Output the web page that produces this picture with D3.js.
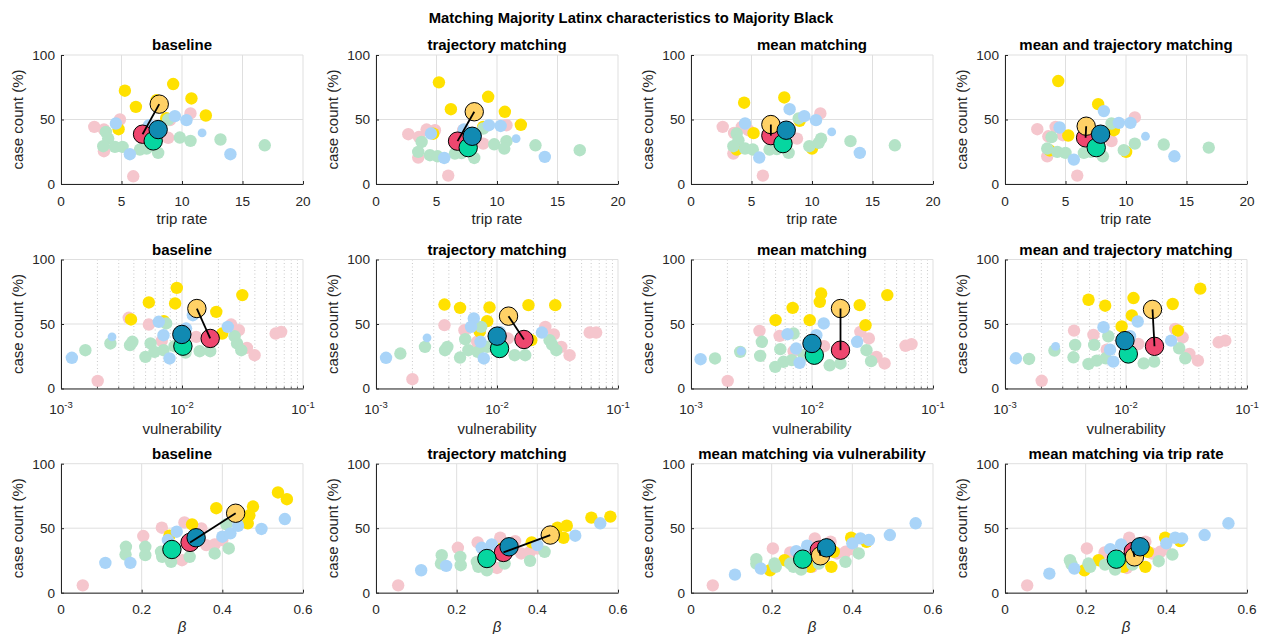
<!DOCTYPE html>
<html>
<head>
<meta charset="utf-8">
<script src="https://cdn.jsdelivr.net/npm/d3@7"></script>
<style>
  body { margin: 0; background: #fff; }
  svg { display: block; }
  text { font-family: "Liberation Sans", Arial, Helvetica, sans-serif; }
</style>
</head>
<body>
<svg id="fig" width="1262" height="634"></svg>
<script>
// ---------------------------------------------------------------
// Data: each row is [group, x, case count (%), small?]
// groups: P = pink, Y = yellow, G = green, B = blue
// Means are listed in the order pink, yellow, green, blue.
// ---------------------------------------------------------------
const groupKeys = ["P", "Y", "G", "B"];            // drawing order
const pointColors = { P: "#f5c6cd", Y: "#ffe100", G: "#b4e3c7", B: "#a9d4f8" };
const meanColors  = { P: "#ef476f", Y: "#ffd166", G: "#06d6a0", B: "#118ab2" };

const yTicks = [0, 50, 100];
const tripTicks = [0, 5, 10, 15, 20];
const vulnTicks = [1e-3, 1e-2, 1e-1];
const vulnTickExp = ["-3", "-2", "-1"];
const betaTicks = [0, 0.2, 0.4, 0.6];
const betaTickLabels = ["0", "0.2", "0.4", "0.6"];

const rowTitles = [
  ["baseline", "trajectory matching", "mean matching", "mean and trajectory matching"],
  ["baseline", "trajectory matching", "mean matching", "mean and trajectory matching"],
  ["baseline", "trajectory matching", "mean matching via vulnerability", "mean matching via trip rate"]
];

// ---- trip rate row ----
const tripBaseline = [
  ["P",2.75,44.3],["P",3.55,42.2],["P",4.87,50],["P",3.55,25.4],["P",5.97,6],["P",8.86,35.8],["P",10.7,54.7],["P",9.0,49.5],["P",7.2,44],
  ["Y",5.28,72.3],["Y",6.19,59.8],["Y",9.27,77.5],["Y",10.78,66.3],["Y",11.97,53.1],["Y",4.76,42.5],["Y",7.9,65],["Y",8.7,51],
  ["G",3.71,40.4],["G",3.9,35.2],["G",3.49,29.3],["G",4.46,28.8],["G",5.09,28.8],["G",6.52,26.7],["G",8.03,24.1],["G",9.82,36],["G",10.7,33.4],["G",13.18,34.5],["G",16.84,30],["G",8.86,50],["G",7.07,27.5],
  ["B",4.54,46.9],["B",5.69,23.1],["B",9.41,52.6],["B",10.37,49.5],["B",11.66,39.6,1],["B",14.0,23.1],["B",7.29,45.6]
];
const tripBaselineMeans = [[6.74,38.6],[8.12,61.9],[7.62,33.4],[8.03,42.2]];

const tripTrajectory = [
  ["P",2.67,38.6],["P",3.55,36.5],["P",4.18,42.2],["P",4.87,41.7],["P",3.49,20.5],["P",5.97,6.5],["P",8.86,31.3],["P",10.78,45.6],["P",7.2,41.7],
  ["Y",5.2,78.8],["Y",6.19,58],["Y",9.27,67.6],["Y",10.65,56],["Y",11.97,45.9],["Y",4.73,39],["Y",8.86,44.3],
  ["G",3.77,32.6],["G",3.49,24.9],["G",4.46,22.3],["G",5.09,21.5],["G",6.52,23.6],["G",8.12,20.2],["G",9.77,30.8],["G",10.78,33.2],["G",10.6,27.5],["G",13.18,30],["G",16.84,26.2],["G",8.86,43],["G",7.07,24],
  ["B",4.54,39.1],["B",5.64,20.2],["B",9.33,45.6],["B",10.3,45],["B",11.58,35.2,1],["B",13.95,21],["B",7.26,42.2]
];
const tripTrajectoryMeans = [[6.74,33.2],[8.12,56],[7.62,28.2],[7.95,37]];

const tripMean = [
  ["P",2.62,44.3],["P",3.56,39.6],["P",4.2,44.3],["P",4.75,41.7],["P",3.5,23.6],["P",5.94,6.5],["P",8.76,35.2],["P",10.69,54.7],["P",7.2,42],
  ["Y",4.39,63],["Y",7.71,67.1],["Y",5.17,39.4],["Y",3.78,26.7],["Y",8.98,49],["Y",10,27.5],
  ["G",3.78,39.1],["G",3.92,33.9],["G",3.5,29.3],["G",4.47,27.5],["G",5.11,26.7],["G",6.49,26.7],["G",8.07,24.1],["G",9.78,29.3],["G",10.75,35.2],["G",10.55,31.9],["G",13.18,33.2],["G",16.85,30],["G",8.9,50.8],["G",7.1,27],
  ["B",4.47,46.9],["B",5.64,20.5],["B",8.15,58],["B",9.36,52.6],["B",10.33,49.5],["B",11.63,40.4,1],["B",13.95,24.1],["B",7.3,44]
];
const tripMeanMeans = [[6.6,37.5],[6.6,46.1],[7.6,31.3],[7.87,41.7]];

const tripMeanTraj = [
  ["P",2.67,42.5],["P",3.58,37],["P",4.18,44.3],["P",4.79,37.8],["P",3.49,21.5],["P",5.97,6.5],["P",8.8,33.2],["P",10.73,51.6],
  ["Y",4.4,79.8],["Y",7.7,61.9],["Y",5.23,37.6],["Y",9.0,41.7],["Y",10.01,24.9],["Y",3.69,26],
  ["G",3.85,36.3],["G",3.49,27.5],["G",4.32,24.9],["G",5,24.1],["G",6.52,24.1],["G",8.09,21.5],["G",9.82,26.2],["G",10.73,31.3],["G",13.12,30.6],["G",16.84,28.2],["G",8.8,46.9],["G",7.1,25],
  ["B",4.51,43.8],["B",5.69,18.9],["B",8.17,56.5],["B",9.41,47.4],["B",10.37,47.4],["B",11.61,37,1],["B",14,21.5]
];
const tripMeanTrajMeans = [[6.66,35.8],[6.71,44.8],[7.54,28.2],[7.9,38.6]];

// ---- vulnerability row ----
const vulnBaseline = [
  ["P",0.00363,54.8],["P",0.00532,49.6],["P",0.0131,40],["P",0.0255,49.6],["P",0.0295,45.2],["P",0.0344,31.5],["P",0.0398,25.8],["P",0.0594,42.6],["P",0.066,43.9],["P",0.00201,5.9],["P",0.0068,37],
  ["Y",0.00532,66.7],["Y",0.00906,78],["Y",0.00877,65.9],["Y",0.00379,53.5],["Y",0.00708,52.2],["Y",0.0192,59.4],["Y",0.0315,72.4],["Y",0.0215,42.6],
  ["G",0.00159,29.7],["G",0.00256,34.9],["G",0.00372,33.6],["G",0.00389,36.2],["G",0.00499,24.5],["G",0.0055,34.9],["G",0.00592,28.4],["G",0.00703,29.7],["G",0.0074,50.4],["G",0.00867,32.8],["G",0.0107,27.9],["G",0.014,28.9],["G",0.0171,28.9],["G",0.0272,40.6],["G",0.0285,34.9],["G",0.0309,29.7],
  ["B",0.00123,23.8],["B",0.00264,40,1],["B",0.00643,51.7],["B",0.00703,41.3],["B",0.00789,23.3],["B",0.0108,46.5],["B",0.0123,56.8],["B",0.0239,47.8]
];
const vulnBaselineMeans = [[0.0171,38.8],[0.01327,62],[0.01017,32.8],[0.00997,41.9]];

const vulnTrajectory = [
  ["P",0.00368,49.1],["P",0.00538,45.2],["P",0.00685,36.2],["P",0.0123,38.8],["P",0.0251,47.8],["P",0.0295,41.9],["P",0.034,32.3],["P",0.0398,25.8],["P",0.0583,43.4],["P",0.066,43.4],["P",0.002,7.2],
  ["Y",0.00368,65.1],["Y",0.00495,62.5],["Y",0.00867,62.8],["Y",0.0083,52.2],["Y",0.0182,64.6],["Y",0.0303,64.6],["Y",0.0192,37.5],["Y",0.0072,44],
  ["G",0.00159,27.1],["G",0.00254,32.3],["G",0.00372,29.7],["G",0.00389,32.3],["G",0.00495,24],["G",0.00546,38.2],["G",0.0058,29.7],["G",0.00693,28.4],["G",0.0074,47.8],["G",0.0083,32.3],["G",0.0108,28.4],["G",0.014,25.8],["G",0.0171,25.8],["G",0.0272,37.5],["G",0.0285,34.1],["G",0.0309,29.7],
  ["B",0.00121,23.8],["B",0.00264,39.3,1],["B",0.00643,54.3],["B",0.0061,47.8],["B",0.0073,36.2],["B",0.00778,23.3],["B",0.0105,43.9],["B",0.0235,43.4]
];
const vulnTrajectoryMeans = [[0.0167,38],[0.01245,56.1],[0.0105,31],[0.01003,40.6]];

const vulnMean = [
  ["P",0.00368,44.7],["P",0.0054,40.8],["P",0.00705,28.9],["P",0.01256,32.8],["P",0.0251,43.9],["P",0.0295,38.8],["P",0.0341,24.5],["P",0.0398,19.4],["P",0.0593,33.1],["P",0.0665,34.4],["P",0.00201,5.9],
  ["Y",0.005,53],["Y",0.00692,62.5],["Y",0.00957,53],["Y",0.0116,67.2],["Y",0.0119,73.6],["Y",0.0248,64.6],["Y",0.0277,49.1],["Y",0.0419,72.4],
  ["G",0.00158,23.3],["G",0.00255,28.4],["G",0.00373,25.3],["G",0.00385,36.2],["G",0.00497,16.8],["G",0.00547,30.5],["G",0.00582,20.7],["G",0.00705,42.6],["G",0.00853,25.8],["G",0.014,18],["G",0.0172,19.4],["G",0.0282,29.7],["G",0.0308,21.2],["G",0.0068,22],
  ["B",0.0012,22.7],["B",0.0026,28.9,1],["B",0.00628,42.1],["B",0.0125,50.4],["B",0.01086,41.3],["B",0.0074,31],["B",0.0079,19.9],["B",0.0236,36.2]
];
const vulnMeanMeans = [[0.0172,29.7],[0.0172,62],[0.01045,25.8],[0.01,34.9]];

const vulnMeanTraj = [
  ["P",0.00372,44.9],["P",0.00538,41.6],["P",0.00693,30.1],["P",0.01265,34.5],["P",0.0255,46.2],["P",0.0294,39.7],["P",0.0334,26.8],["P",0.0393,21.6],["P",0.0583,35.8],["P",0.0662,37.1],["P",0.00201,6],
  ["Y",0.0049,68.8],["Y",0.00673,64.2],["Y",0.0092,48.1],["Y",0.01153,70.1],["Y",0.01117,56.6],["Y",0.0243,65.5],["Y",0.0269,44.9],["Y",0.0411,77.4],
  ["G",0.00158,22.9],["G",0.00256,29.4],["G",0.00368,24.2],["G",0.0038,33.8],["G",0.0049,19],["G",0.00546,33.8],["G",0.00574,21.6],["G",0.00714,40.5],["G",0.00679,23.4],["G",0.014,19.5],["G",0.0171,20.8],["G",0.0275,31.2],["G",0.0309,23.4],
  ["B",0.00123,23.4],["B",0.00262,32.7,1],["B",0.00652,47.5],["B",0.0125,51.9],["B",0.0108,40.5],["B",0.00738,30.1],["B",0.00785,20.8],["B",0.0236,37.1]
];
const vulnMeanTrajMeans = [[0.0172,32.7],[0.01656,61.3],[0.01045,26.8],[0.0098,37.1]];

// ---- beta row ----
const betaBaseline = [
  ["P",0.054,5.7],["P",0.204,43.9],["P",0.25,50.4],["P",0.306,54.5],["P",0.3,25.2],["P",0.348,49.9],["P",0.36,36.9],["P",0.381,37.4],["P",0.4,40.8],
  ["Y",0.385,65.5],["Y",0.476,66.8],["Y",0.463,53.8],["Y",0.467,60],["Y",0.538,77.7],["Y",0.56,72.5],["Y",0.325,53],["Y",0.269,44.2],
  ["G",0.161,35.6],["G",0.16,29.6],["G",0.209,35.6],["G",0.209,29.1],["G",0.248,31.7],["G",0.251,27.8],["G",0.273,23.9],["G",0.319,27.8],["G",0.381,30.4],["G",0.416,34.3],["G",0.41,53],
  ["B",0.11,23.1],["B",0.172,23.1],["B",0.287,47.3],["B",0.265,40.8],["B",0.4,43.4],["B",0.42,46],["B",0.439,51.9],["B",0.497,49.4],["B",0.555,57.1]
];
const betaBaselineMeans = [[0.32,39],[0.433,61.6],[0.275,33.5],[0.335,42.6]];

const betaTrajectory = [
  ["P",0.055,5.7],["P",0.203,34.8],["P",0.252,39],["P",0.308,42.6],["P",0.3,19.2],["P",0.345,40],["P",0.36,30.4],["P",0.382,31.7],["P",0.4,34.3],
  ["Y",0.386,39],["Y",0.45,50.4],["Y",0.473,51.9],["Y",0.465,42.6],["Y",0.534,58.2],["Y",0.581,59],["Y",0.31,34],
  ["G",0.163,29.1],["G",0.161,22.6],["G",0.209,27.8],["G",0.21,21.3],["G",0.25,23.9],["G",0.254,20],["G",0.275,17.4],["G",0.319,22.6],["G",0.382,24.7],["G",0.418,31.7],
  ["B",0.112,17.4],["B",0.174,20.8],["B",0.287,37.4],["B",0.262,34.8],["B",0.4,36.9],["B",0.494,44.2],["B",0.556,53.8]
];
const betaTrajectoryMeans = [[0.316,31.2],[0.432,44.7],[0.275,26.5],[0.33,35.6]];

const betaMeanVuln = [
  ["P",0.054,5.7],["P",0.203,34.3],["P",0.246,31.2],["P",0.307,42.1],["P",0.3,20],["P",0.346,39.5],["P",0.362,30.4],["P",0.383,31.7],["P",0.4,33.8],
  ["Y",0.196,17.4],["Y",0.232,25.2],["Y",0.296,20],["Y",0.348,20],["Y",0.354,31.7],["Y",0.397,42.6],["Y",0.435,39.5],
  ["G",0.162,26],["G",0.162,22.6],["G",0.207,22.6],["G",0.21,20],["G",0.246,22.6],["G",0.254,20],["G",0.273,17.9],["G",0.317,22.6],["G",0.383,23.9],["G",0.416,30.4],
  ["B",0.109,14],["B",0.173,18.7],["B",0.288,36.4],["B",0.261,32.2],["B",0.4,38.2],["B",0.42,42.1],["B",0.441,40.8],["B",0.493,44.7],["B",0.557,53.8]
];
const betaMeanVulnMeans = [[0.318,33],[0.321,28.6],[0.277,26],[0.336,34.8]];

const betaMeanTrip = [
  ["P",0.055,5.7],["P",0.203,34.3],["P",0.247,31.2],["P",0.308,42.6],["P",0.302,19.2],["P",0.348,39.5],["P",0.364,30.4],["P",0.385,31.7],["P",0.397,33.8],
  ["Y",0.197,17.4],["Y",0.232,25.2],["Y",0.294,20],["Y",0.348,20],["Y",0.354,31.7],["Y",0.397,42.6],["Y",0.434,40],
  ["G",0.161,25.2],["G",0.165,22],["G",0.207,22.6],["G",0.211,20],["G",0.248,21.8],["G",0.273,17.9],["G",0.316,21.8],["G",0.381,24.4],["G",0.415,29.6],
  ["B",0.11,14.8],["B",0.172,18.7],["B",0.288,37.4],["B",0.261,33.8],["B",0.4,38.2],["B",0.422,42.6],["B",0.439,42.1],["B",0.495,44.7],["B",0.554,53.8]
];
const betaMeanTripMeans = [[0.318,32],[0.321,27.8],[0.276,26],[0.335,35.6]];

const rowData = [
  [tripBaseline, tripTrajectory, tripMean, tripMeanTraj],
  [vulnBaseline, vulnTrajectory, vulnMean, vulnMeanTraj],
  [betaBaseline, betaTrajectory, betaMeanVuln, betaMeanTrip]
];
const rowMeans = [
  [tripBaselineMeans, tripTrajectoryMeans, tripMeanMeans, tripMeanTrajMeans],
  [vulnBaselineMeans, vulnTrajectoryMeans, vulnMeanMeans, vulnMeanTrajMeans],
  [betaBaselineMeans, betaTrajectoryMeans, betaMeanVulnMeans, betaMeanTripMeans]
];

// ---------------------------------------------------------------
// Layout and styling
// ---------------------------------------------------------------
const colLeft = [61, 376, 691, 1005];
const rowTop = [55, 259.5, 463.7];
const W = 242, H = 129;
const axisColor = "#262626";
const gridColor = "#dfdfdf";
const minorGridColor = "#c4c4c4";
const rPoint = 6.2, rSmall = 4.4, rMean = 9.2;

const svg = d3.select("#fig");

svg.append("text")
  .attr("x", 631).attr("y", 23)
  .attr("text-anchor", "middle")
  .attr("font-size", 14.8).attr("font-weight", "bold").attr("fill", "#000")
  .text("Matching Majority Latinx characteristics to Majority Black");

function makeX(row) {
  if (row === 0) return d3.scaleLinear().domain([0, 20]).range([0, W]);
  if (row === 1) return d3.scaleLog().domain([1e-3, 1e-1]).range([0, W]);
  return d3.scaleLinear().domain([0, 0.6]).range([0, W]);
}

function minorLogTicks() {
  const minor = [];
  for (const base of [1e-3, 1e-2]) for (let k = 2; k <= 9; k++) minor.push(base * k);
  return minor;
}

for (let row = 0; row < 3; row++) {
  for (let col = 0; col < 4; col++) {
    const g = svg.append("g").attr("transform", `translate(${colLeft[col]},${rowTop[row]})`);
    const x = makeX(row);
    const y = d3.scaleLinear().domain([0, 100]).range([H, 0]);
    const majorX = row === 0 ? tripTicks : row === 1 ? vulnTicks : betaTicks;

    // dotted minor grid on the log axis
    if (row === 1) {
      g.append("g").selectAll("line").data(minorLogTicks()).join("line")
        .attr("x1", d => x(d)).attr("x2", d => x(d))
        .attr("y1", 0).attr("y2", H)
        .attr("stroke", minorGridColor).attr("stroke-width", 0.9)
        .attr("stroke-dasharray", "1,2.5");
    }
    // major grid
    g.append("g").selectAll("line").data(majorX).join("line")
      .attr("x1", d => x(d)).attr("x2", d => x(d))
      .attr("y1", 0).attr("y2", H)
      .attr("stroke", gridColor).attr("stroke-width", 1);
    g.append("g").selectAll("line").data(yTicks).join("line")
      .attr("x1", 0).attr("x2", W)
      .attr("y1", d => y(d)).attr("y2", d => y(d))
      .attr("stroke", gridColor).attr("stroke-width", 1);

    // scatter points
    const pts = rowData[row][col];
    for (const key of groupKeys) {
      g.append("g").selectAll("circle").data(pts.filter(d => d[0] === key)).join("circle")
        .attr("cx", d => x(d[1])).attr("cy", d => y(d[2]))
        .attr("r", d => d[3] ? rSmall : rPoint)
        .attr("fill", pointColors[key]);
    }

    // group means with a link from the yellow mean to the pink mean
    const means = rowMeans[row][col];
    const meanRows = groupKeys.map((k, i) => ({ key: k, x: means[i][0], y: means[i][1] }));
    g.append("g").selectAll("circle").data(meanRows).join("circle")
      .attr("cx", d => x(d.x)).attr("cy", d => y(d.y))
      .attr("r", rMean)
      .attr("fill", d => meanColors[d.key])
      .attr("stroke", "#000").attr("stroke-width", 1);
    const pinkMean = meanRows[0], yellowMean = meanRows[1];
    g.append("line")
      .attr("x1", x(yellowMean.x)).attr("y1", y(yellowMean.y))
      .attr("x2", x(pinkMean.x)).attr("y2", y(pinkMean.y))
      .attr("stroke", "#000").attr("stroke-width", 1.8);

    // axes
    const xAxis = g.append("g").attr("transform", `translate(0,${H})`)
      .call(d3.axisBottom(x).tickValues(majorX).tickSizeInner(-3).tickSizeOuter(0).tickFormat(""));
    const yAxis = g.append("g")
      .call(d3.axisLeft(y).tickValues(yTicks).tickSizeInner(-3).tickSizeOuter(0).tickFormat(""));
    for (const ax of [xAxis, yAxis]) {
      ax.select(".domain").attr("stroke", axisColor).attr("stroke-width", 1);
      ax.selectAll(".tick line").attr("stroke", axisColor).attr("stroke-width", 1);
    }
    if (row === 1) {
      g.append("g").selectAll("line").data(minorLogTicks()).join("line")
        .attr("x1", d => x(d)).attr("x2", d => x(d))
        .attr("y1", H).attr("y2", H - 1.8)
        .attr("stroke", axisColor).attr("stroke-width", 0.8);
    }

    // y tick labels
    g.append("g").selectAll("text").data(yTicks).join("text")
      .attr("x", -6).attr("y", d => y(d))
      .attr("dy", "0.36em")
      .attr("text-anchor", "end")
      .attr("font-size", 13.6).attr("fill", axisColor)
      .text(d => d);

    // x tick labels
    if (row === 1) {
      const t = g.append("g").selectAll("text").data(vulnTicks).join("text")
        .attr("x", d => x(d)).attr("y", H + 25)
        .attr("text-anchor", "middle")
        .attr("font-size", 13.6).attr("fill", axisColor);
      t.append("tspan").text("10");
      t.append("tspan").attr("dy", -6).attr("font-size", 9.5).text((d, i) => vulnTickExp[i]);
    } else {
      g.append("g").selectAll("text").data(majorX).join("text")
        .attr("x", d => x(d)).attr("y", H + 21.5)
        .attr("text-anchor", "middle")
        .attr("font-size", 13.6).attr("fill", axisColor)
        .text((d, i) => row === 0 ? d : betaTickLabels[i]);
    }

    // axis labels
    if (row === 2) {
      g.append("text")
        .attr("x", W / 2).attr("y", H + 39)
        .attr("text-anchor", "middle")
        .attr("font-family", "'Liberation Serif', 'DejaVu Serif', serif")
        .attr("font-style", "italic")
        .attr("font-size", 15).attr("fill", axisColor)
        .text("β");
    } else {
      g.append("text")
        .attr("x", W / 2).attr("y", row === 0 ? H + 40 : H + 45)
        .attr("text-anchor", "middle")
        .attr("font-size", 15).attr("fill", axisColor)
        .text(row === 0 ? "trip rate" : "vulnerability");
    }
    g.append("text")
      .attr("transform", `translate(-43,${H / 2}) rotate(-90)`)
      .attr("text-anchor", "middle")
      .attr("dy", "0.35em")
      .attr("font-size", 15).attr("fill", axisColor)
      .text("case count (%)");

    // panel title
    g.append("text")
      .attr("x", W / 2).attr("y", -5)
      .attr("text-anchor", "middle")
      .attr("font-size", 15).attr("font-weight", "bold").attr("fill", "#000")
      .text(rowTitles[row][col]);
  }
}
</script>
</body>
</html>
